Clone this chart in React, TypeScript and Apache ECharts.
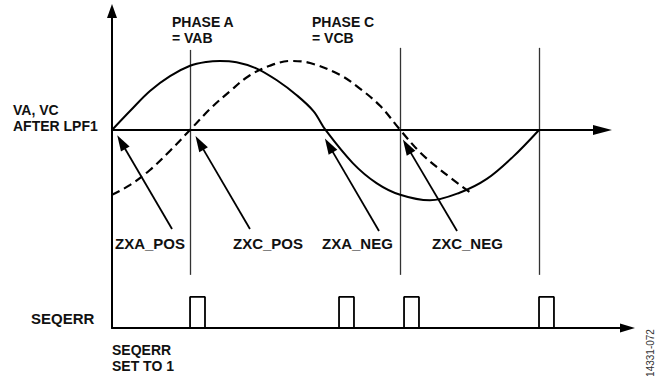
import React, { useEffect, useRef } from "react";
import * as echarts from "echarts";

// x in degrees of the phase-A cycle, y in units of the waveform amplitude
const X_MAX = 434.6;
const Y_MIN = -2.87;
const Y_MAX = 1.724;

const vaPoints: number[][] = [
  [0, 0], [15.2, 0.275], [32, 0.565], [48.9, 0.78], [65.8, 0.93], [79.3, 0.985],
  [91, 1.0], [105, 0.98], [122, 0.89], [139, 0.72], [156, 0.5], [170, 0.27],
  [180, 0], [203, -0.48], [223, -0.77], [243, -0.94], [268, -1.02], [293, -0.91],
  [316, -0.71], [338, -0.39], [360, 0],
];

const vcPoints: number[][] = [
  [0, -0.94], [15, -0.8], [32, -0.58], [49, -0.3], [65.8, 0], [83, 0.31], [100, 0.57],
  [116, 0.79], [133, 0.93], [150, 1.0], [167, 0.97], [192, 0.8], [209, 0.6],
  [226, 0.35], [243, 0], [260, -0.33], [277, -0.58], [303, -0.92],
];

const zeroCrossLines = [65.8, 243.4, 360];
const zeroCrossTops = [1.16, 1.19, 1.19];
const zeroCrossBottom = -2.1;
const midAxisEnd = 413.5;

const arrowTails: number[][] = [[50.6, -1.435], [116.3, -1.435], [225.1, -1.464], [290.9, -1.464]];
const arrowHeads: number[][] = [[7.8, -0.177], [73.8, -0.187], [182.9, -0.223], [248.7, -0.238]];

const pulseStarts = [65.8, 191.4, 246.2, 360];
const pulseWidth = 12.6;
const seqerrLow = -2.87;
const seqerrHigh = -2.42;

const crossingLabels = ["ZXA_POS", "ZXC_POS", "ZXA_NEG", "ZXC_NEG"];

const FONT = '"Liberation Sans", Arial, Helvetica, sans-serif';
const INK = "#111";

function txt(text: string, x: number, y: number, extra: any = {}) {
  return {
    type: "text",
    x,
    y,
    silent: true,
    style: {
      text,
      fill: INK,
      fontFamily: FONT,
      fontSize: 15,
      fontWeight: "bold",
      textAlign: "left",
      textVerticalAlign: "middle",
      verticalAlign: "middle",
      ...extra,
    },
  };
}

const block = { fontSize: 14, lineHeight: 16 };

export default function App() {
  const ref = useRef<HTMLDivElement>(null);

  useEffect(() => {
    if (!ref.current) return;
    const chart = echarts.init(ref.current, null, { renderer: "svg" });

    const pulseData: number[][] = [];
    pulseStarts.forEach((s) => {
      pulseData.push([s, seqerrLow], [s, seqerrHigh], [s + pulseWidth, seqerrHigh], [s + pulseWidth, seqerrLow]);
    });

    const crossX = [115, 233, 322, 432];

    const option: any = {
      animation: false,
      backgroundColor: "#fff",
      grid: { left: 112, right: 40.5, top: 11, bottom: 48, containLabel: false },
      xAxis: {
        type: "value",
        min: 0,
        max: X_MAX,
        axisLine: {
          show: true,
          onZero: false,
          symbol: ["none", "triangle"],
          symbolSize: [9, 15],
          lineStyle: { color: "#000", width: 2 },
        },
        axisTick: { show: false },
        axisLabel: { show: false },
        splitLine: { show: false },
      },
      yAxis: {
        type: "value",
        min: Y_MIN,
        max: Y_MAX,
        axisLine: {
          show: true,
          onZero: false,
          symbol: ["none", "triangle"],
          symbolSize: [10, 14],
          lineStyle: { color: "#000", width: 2 },
        },
        axisTick: { show: false },
        axisLabel: { show: false },
        splitLine: { show: false },
      },
      series: [
        {
          name: "VA",
          type: "line",
          data: vaPoints,
          smooth: 0.35,
          showSymbol: false,
          silent: true,
          lineStyle: { color: "#000", width: 2 },
          z: 5,
        },
        {
          name: "VC",
          type: "line",
          data: vcPoints,
          smooth: 0.35,
          showSymbol: false,
          silent: true,
          lineStyle: { color: "#000", width: 2.2, type: [8.5, 5] },
          z: 5,
        },
        {
          name: "SEQERR",
          type: "line",
          data: pulseData,
          showSymbol: false,
          silent: true,
          clip: false,
          lineStyle: { color: "#000", width: 1.8 },
        },
        {
          name: "zeroCross",
          type: "line",
          data: [],
          markLine: {
            silent: true,
            symbol: ["none", "none"],
            label: { show: false },
            emphasis: { disabled: true },
            lineStyle: { color: "#333", width: 1.3, type: "solid" },
            data: zeroCrossLines.map((x, i) => [
              { coord: [x, zeroCrossTops[i]] },
              { coord: [x, zeroCrossBottom] },
            ]),
          },
        },
        {
          name: "midAxis",
          type: "line",
          data: [],
          markLine: {
            silent: true,
            symbol: ["none", "triangle"],
            label: { show: false },
            emphasis: { disabled: true },
            lineStyle: { color: "#000", width: 2, type: "solid" },
            data: [[{ coord: [0, 0] }, { coord: [midAxisEnd, 0], symbol: "triangle", symbolSize: [10, 19] }]],
          },
        },
        {
          name: "arrows",
          type: "line",
          data: [],
          markLine: {
            silent: true,
            symbol: ["none", "triangle"],
            label: { show: false },
            emphasis: { disabled: true },
            lineStyle: { color: "#000", width: 1.8, type: "solid" },
            data: arrowTails.map((t, i) => [
              { coord: t },
              { coord: arrowHeads[i], symbol: "triangle", symbolSize: [10, 16] },
            ]),
          },
        },
      ],
      graphic: [
        txt("VA, VC\nAFTER LPF1", 13, 118.25, block),
        txt("PHASE A\n= VAB", 172, 29.5, block),
        txt("PHASE C\n= VCB", 312, 29.5, block),
        ...crossingLabels.map((l, i) => txt(l, crossX[i], 243.5)),
        txt("SEQERR", 31, 318),
        txt("SEQERR\nSET TO 1", 112, 358.25, block),
        {
          type: "text",
          x: 650,
          y: 353,
          rotation: Math.PI / 2,
          silent: true,
          style: {
            text: "14331-072",
            fill: "#333",
            fontFamily: FONT,
            fontSize: 10,
            textAlign: "center",
            textVerticalAlign: "middle",
            verticalAlign: "middle",
          },
        },
      ],
    };

    chart.setOption(option);
    return () => chart.dispose();
  }, []);

  return (
    <div
      ref={ref}
      style={{ position: "fixed", left: 0, top: 0, width: 668, height: 376, background: "#fff" }}
    />
  );
}
